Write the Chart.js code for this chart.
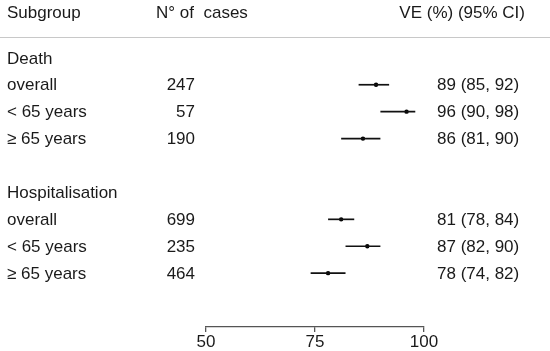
<!DOCTYPE html>
<html>
<head>
<meta charset="utf-8">
<script src="https://cdn.jsdelivr.net/npm/chart.js@4/dist/chart.umd.min.js"></script>
<style>
html,body{margin:0;padding:0;background:#fff;}
#wrap{width:550px;height:351px;position:relative;}
</style>
</head>
<body>
<div id="wrap"><canvas id="c" width="550" height="351"></canvas></div>
<script>
// Data
const headers = ["Subgroup", "N° of  cases", "VE (%) (95% CI)"];
const rowLabels = ["Death", "overall", "< 65 years", "≥ 65 years", "", "Hospitalisation", "overall", "< 65 years", "≥ 65 years"];
const cases =     [null, 247, 57, 190, null, null, 699, 235, 464];
const ve =        [null, 89, 96, 86, null, null, 81, 87, 78];
const lower =     [null, 85, 90, 81, null, null, 78, 82, 74];
const upper =     [null, 92, 98, 90, null, null, 84, 90, 82];
const xTicks = [50, 75, 100];

const FONT = '17px "Liberation Sans", Arial, sans-serif';
const TXT = '#1a1a1a';

const points = [];
ve.forEach((v, i) => { if (v !== null) points.push({x: v, y: i}); });

const tablePlugin = {
  id: 'table',
  afterDatasetsDraw(chart) {
    const ctx = chart.ctx;
    const xs = chart.scales.x, ys = chart.scales.y;
    ctx.save();
    ctx.strokeStyle = '#111';
    ctx.lineWidth = 1.7;
    lower.forEach((lo, i) => {
      if (lo === null) return;
      const y = ys.getPixelForValue(i);
      ctx.beginPath();
      ctx.moveTo(xs.getPixelForValue(lo), y);
      ctx.lineTo(xs.getPixelForValue(upper[i]), y);
      ctx.stroke();
    });
    ctx.restore();
  },
  afterDraw(chart) {
    const ctx = chart.ctx;
    const ys = chart.scales.y;
    const off = 1;
    ctx.save();
    ctx.font = FONT;
    ctx.fillStyle = TXT;
    ctx.textBaseline = 'middle';
    const hy = ys.getPixelForValue(-1.7) + off;
    ctx.textAlign = 'left';
    ctx.fillText(headers[0], 7, hy);
    ctx.fillText(headers[1], 156, hy);
    ctx.textAlign = 'right';
    ctx.fillText(headers[2], 525, hy);
    const sy = Math.round(ys.getPixelForValue(-0.78)) + 0.5;
    ctx.strokeStyle = '#c8c8c8';
    ctx.lineWidth = 1;
    ctx.beginPath(); ctx.moveTo(0, sy); ctx.lineTo(550, sy); ctx.stroke();
    rowLabels.forEach((lab, i) => {
      const y = ys.getPixelForValue(i) + off;
      ctx.textAlign = 'left';
      if (lab) ctx.fillText(lab, 7, y);
      if (cases[i] !== null) {
        ctx.textAlign = 'right';
        ctx.fillText(String(cases[i]), 195, y);
      }
      if (ve[i] !== null) {
        ctx.textAlign = 'left';
        ctx.fillText(ve[i] + ' (' + lower[i] + ', ' + upper[i] + ')', 437, y);
      }
    });
    ctx.restore();
  }
};

new Chart(document.getElementById('c'), {
  type: 'scatter',
  data: {
    datasets: [{
      data: points,
      backgroundColor: '#000',
      borderColor: '#000',
      borderWidth: 0,
      pointRadius: 2.2,
      pointHoverRadius: 2.2
    }]
  },
  options: {
    responsive: false,
    animation: false,
    events: [],
    plugins: { legend: { display: false }, tooltip: { enabled: false } },
    layout: { padding: { left: 206, right: 126, top: 4, bottom: 0 } },
    scales: {
      x: {
        type: 'linear',
        min: 50, max: 100,
        afterBuildTicks(s) { s.ticks = xTicks.map(v => ({value: v})); },
        afterFit(s) { s.height = 24; },
        grid: { drawOnChartArea: false, drawTicks: true, tickLength: 5, color: '#555', lineWidth: 1.3 },
        border: { display: true, color: '#555', width: 1.3 },
        ticks: { color: TXT, font: { family: '"Liberation Sans", Arial, sans-serif', size: 17 }, padding: 0, maxRotation: 0 }
      },
      y: {
        type: 'linear',
        reverse: true,
        min: -2, max: 10,
        display: false
      }
    }
  },
  plugins: [tablePlugin]
});
</script>
</body>
</html>
